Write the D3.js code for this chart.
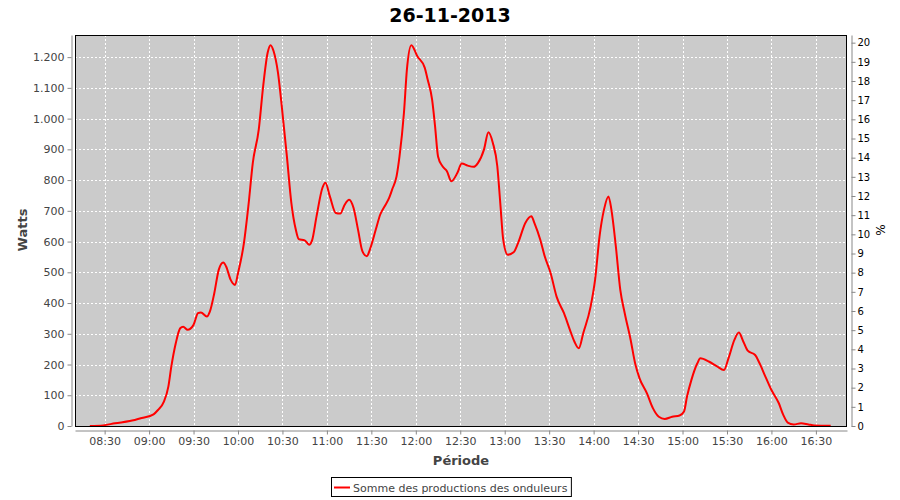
<!DOCTYPE html>
<html>
<head>
<meta charset="utf-8">
<script src="https://cdn.jsdelivr.net/npm/d3@7"></script>
<style>
  body { margin: 0; background: #fff; }
  svg { display: block; font-family: "DejaVu Sans", sans-serif; }
</style>
</head>
<body>
<svg id="chart" width="900" height="500"></svg>
<script>
const title = "26-11-2013";
const seriesName = "Somme des productions des onduleurs";
const times = ["08:20","08:29","08:37","08:47","08:55","09:03","09:06","09:10","09:13","09:15","09:18","09:21","09:23","09:26","09:30","09:33","09:35","09:39","09:41","09:44","09:47","09:50","09:52","09:55","09:58","10:00","10:04","10:07","10:10","10:14","10:17","10:20","10:22","10:24","10:27","10:30","10:33","10:36","10:39","10:41","10:45","10:48","10:50","10:53","10:57","10:59","11:02","11:06","11:09","11:12","11:15","11:18","11:21","11:24","11:27","11:29","11:33","11:36","11:39","11:42","11:44","11:47","11:49","11:52","11:54","11:57","12:01","12:06","12:08","12:11","12:13","12:15","12:18","12:21","12:24","12:28","12:31","12:35","12:39","12:42","12:46","12:49","12:52","12:55","12:57","12:59","13:02","13:06","13:09","13:14","13:18","13:20","13:24","13:27","13:31","13:35","13:40","13:44","13:47","13:50","13:53","13:58","14:01","14:04","14:07","14:10","14:12","14:15","14:18","14:21","14:25","14:28","14:31","14:36","14:40","14:44","14:48","14:53","14:58","15:01","15:03","15:06","15:10","15:12","15:18","15:23","15:28","15:31","15:35","15:38","15:41","15:44","15:49","15:52","15:56","16:00","16:05","16:08","16:11","16:15","16:20","16:25","16:29","16:40"];
const watts = [0,2,9,16,26,38,52,79,128,193,269,318,323,313,329,367,369,356,372,432,508,532,519,476,459,497,595,715,856,964,1106,1214,1239,1220,1149,1019,877,726,639,608,604,590,604,682,775,791,747,693,691,720,736,709,639,568,552,574,639,688,715,742,769,812,877,1019,1160,1239,1203,1166,1127,1062,975,877,845,829,796,823,854,847,843,856,899,956,921,845,726,606,557,565,595,661,682,661,606,552,497,421,367,313,275,253,302,389,476,617,704,747,704,584,443,367,280,204,155,106,58,30,23,30,34,47,95,150,204,220,209,195,182,220,280,304,275,245,231,204,160,117,74,36,11,5,9,5,2,1];
const xDomain = ["08:10", "16:51"];
const yMax = 1272;
const pctMax = 20.4;
const yTicks = d3.range(0, 1201, 100);
const pctTicks = d3.range(0, 21, 1);

const parse = d3.timeParse("%H:%M");
const data = times.map((t, i) => ({ t: parse(t), v: watts[i] }));

const svg = d3.select("#chart");
const L = 75, R = 847, T = 35, B = 426;

const x = d3.scaleTime().domain(xDomain.map(parse)).range([L, R]);
const y = d3.scaleLinear().domain([0, yMax]).range([B, T]);
const y2 = d3.scaleLinear().domain([0, pctMax]).range([B, T]);

const loc = d3.formatLocale({ decimal: ",", thousands: ".", grouping: [3], currency: ["", ""] });
const fmt = loc.format(",d");

// plot background
svg.append("rect").attr("x", L).attr("y", T).attr("width", R - L).attr("height", B - T)
  .attr("fill", "#cbcbcb");

const xTicks = x.ticks(d3.timeMinute.every(30));

// gridlines
const grid = svg.append("g").attr("stroke", "#fff").attr("stroke-width", 1).attr("stroke-dasharray", "2,2");
grid.selectAll("line.h").data(yTicks.filter(d => d > 0)).join("line")
  .attr("x1", L).attr("x2", R)
  .attr("y1", d => Math.round(y(d)) + 0.5).attr("y2", d => Math.round(y(d)) + 0.5);
grid.selectAll("line.v").data(xTicks).join("line")
  .attr("y1", T).attr("y2", B)
  .attr("x1", d => Math.round(x(d)) + 0.5).attr("x2", d => Math.round(x(d)) + 0.5);

// line
const line = d3.line().x(d => x(d.t)).y(d => y(d.v)).curve(d3.curveMonotoneX);
svg.append("path").datum(data).attr("d", line)
  .attr("fill", "none").attr("stroke", "#ff0000").attr("stroke-width", 2);

// border
svg.append("rect").attr("x", L + 0.5).attr("y", T + 0.5).attr("width", R - L - 1).attr("height", B - T)
  .attr("fill", "none").attr("stroke", "#000").attr("stroke-width", 1);

function styleAxis(g) {
  g.select(".domain").attr("stroke", "#888");
  g.selectAll(".tick line").attr("stroke", "#888");
  g.selectAll(".tick text").attr("fill", "#444").attr("font-size", 11)
    .attr("font-family", "DejaVu Sans, sans-serif");
}

// left axis
const gl = svg.append("g").attr("transform", "translate(71.5,0)")
  .call(d3.axisLeft(y).tickValues(yTicks).tickFormat(fmt).tickSize(4).tickSizeOuter(0).tickPadding(3));
styleAxis(gl);

// right axis
const gr = svg.append("g").attr("transform", "translate(851.5,0)")
  .call(d3.axisRight(y2).tickValues(pctTicks).tickFormat(d3.format("d")).tickSize(4).tickSizeOuter(0).tickPadding(2));
styleAxis(gr);
gr.selectAll(".tick text").attr("fill", "#000").attr("font-size", 10);

// bottom axis
const gb = svg.append("g").attr("transform", "translate(0,430.5)")
  .call(d3.axisBottom(x).tickValues(xTicks).tickFormat(d3.timeFormat("%H:%M")).tickSize(4).tickSizeOuter(0).tickPadding(3));
styleAxis(gb);

// title
svg.append("text").attr("x", 450).attr("y", 22).attr("text-anchor", "middle")
  .attr("font-size", 19).attr("font-weight", "bold").attr("fill", "#000").text(title);

// axis labels
svg.append("text").attr("transform", "translate(27,230) rotate(-90)").attr("text-anchor", "middle")
  .attr("font-size", 13).attr("font-weight", "bold").attr("fill", "#444").text("Watts");
svg.append("text").attr("transform", "translate(885,230) rotate(-90)").attr("text-anchor", "middle")
  .attr("font-size", 12).attr("fill", "#000").text("%");
svg.append("text").attr("x", 461).attr("y", 465).attr("text-anchor", "middle")
  .attr("font-size", 13).attr("font-weight", "bold").attr("fill", "#444").text("Période");

// legend
const lg = svg.append("g");
const lt = lg.append("text").attr("x", 353).attr("y", 491.5)
  .attr("font-size", 11).attr("fill", "#444").text(seriesName);
const tw = lt.node().getComputedTextLength();
lg.insert("rect", "text").attr("x", 331.5).attr("y", 477.5).attr("width", (353 + tw + 4) - 331.5).attr("height", 19)
  .attr("fill", "#fff").attr("stroke", "#000");
lg.append("line").attr("x1", 334).attr("x2", 350).attr("y1", 487.5).attr("y2", 487.5)
  .attr("stroke", "#ff0000").attr("stroke-width", 2);
</script>
</body>
</html>
